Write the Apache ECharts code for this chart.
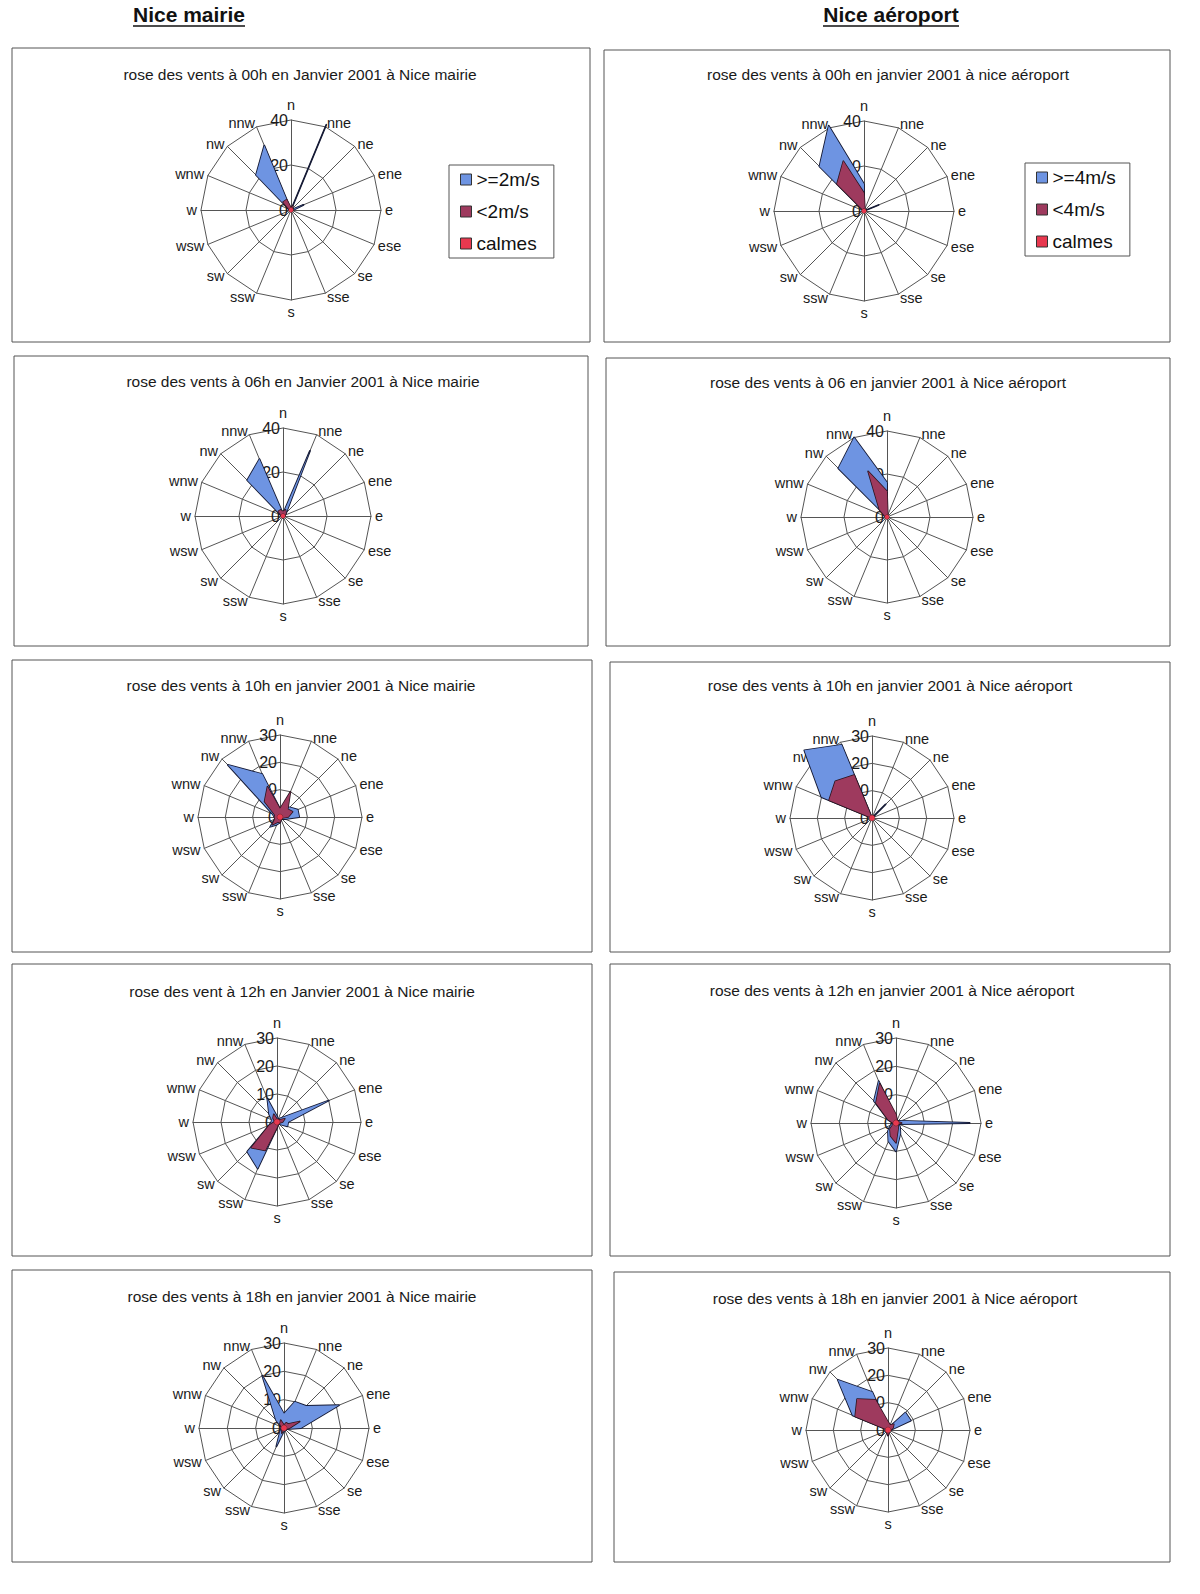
<!DOCTYPE html>
<html><head><meta charset="utf-8">
<script src="https://cdn.jsdelivr.net/npm/echarts@6/dist/echarts.min.js"></script>
<style>html,body{margin:0;padding:0;background:#fff}#c{width:1200px;height:1594px}</style>
</head><body><div id="c"></div>
<script>
// ---- data ----
const DIRS = ['n','nne','ne','ene','e','ese','se','sse','s','ssw','sw','wsw','w','wnw','nw','nnw'];
const TICKS40 = ['0','20','40'];
const TICKS30 = ['0','10','20','30'];
const NAMES_MAIRIE = ['>=2m/s','<2m/s','calmes'];
const NAMES_AERO = ['>=4m/s','<4m/s','calmes'];
const HEADERS = ['Nice mairie','Nice aéroport'];
const TITLES = [
  'rose des vents à 00h en Janvier 2001 à Nice mairie',
  'rose des vents à 00h en janvier 2001 à nice aéroport',
  'rose des vents à 06h en Janvier 2001 à Nice mairie',
  'rose des vents à 06 en janvier 2001 à Nice aéroport',
  'rose des vents à 10h en janvier 2001 à Nice mairie',
  'rose des vents à 10h en janvier 2001 à Nice aéroport',
  'rose des vent à 12h en Janvier 2001 à Nice mairie',
  'rose des vents à 12h en janvier 2001 à Nice aéroport',
  'rose des vents à 18h en janvier 2001 à Nice mairie',
  'rose des vents à 18h en janvier 2001 à Nice aéroport'
];
// values in compass order n, nne, ne, ... nnw (percent)
const mairie00_hi = [0,41,0,6,1,0,0,0,0,0,0,0,0,1,22,31];
const mairie00_lo = [1,2,1,1,0,0,0,0,0,0,0,0,0,1,5,5];
const mairie00_calm = [1,1,1,1,1,1,1,1,1,1,1,1,1,1,1,1];
const aero00_hi = [12,0,0,7,0,0,0,0,0,0,0,0,0,0,28,41];
const aero00_lo = [8,1,0,1,0,0,0,0,0,0,0,0,0,0,17,24];
const aero00_calm = [1,1,1,1,1,1,1,1,1,1,1,1,1,1,1,1];
const mairie06_hi = [1,32,2,1,0,0,0,0,0,0,0,0,0,1,23,28];
const mairie06_lo = [2,3,2,1,1,0,0,0,1,0,0,0,0,1,3,3];
const mairie06_calm = [1,1,1,1,1,1,1,1,1,1,1,1,1,1,1,1];
const aero06_hi = [16,0,0,0,0,0,0,0,0,0,0,0,0,0,32,40];
const aero06_lo = [12,1,0,0,0,0,0,0,0,0,0,0,0,1,5,23];
const aero06_calm = [1,1,1,1,1,1,1,1,1,1,1,1,1,1,1,1];
const mairie10_hi = [3,3,5,7,7,2,1,1,2,3,5,2,2,3,27,17];
const mairie10_lo = [3,10,4,5,3,1,1,1,2,2,4,2,2,2,8,12];
const mairie10_calm = [1,1,1,1,1,1,1,1,1,1,1,1,1,1,1,1];
const aero10_hi = [0,0,7,0,0,0,0,0,0,0,0,0,0,20,35,29];
const aero10_lo = [0,0,1,0,0,0,0,0,0,0,0,0,0,17,19,17];
const aero10_calm = [1,1,1,1,1,1,1,1,1,1,1,1,1,1,1,1];
const mairie12_hi = [2,1,2,20,4,4,1,1,2,18,15,3,2,2,4,9];
const mairie12_lo = [1,1,1,3,2,1,1,1,2,11,13,3,1,1,2,3];
const mairie12_calm = [1,1,1,1,1,1,1,1,1,1,1,1,1,1,1,1];
const aero12_hi = [2,1,1,2,26,1,2,4,10,7,4,2,1,3,11,16];
const aero12_lo = [3,1,1,1,2,1,1,2,7,5,3,1,1,3,10,15];
const aero12_calm = [1,1,1,1,1,1,1,1,1,1,1,1,1,1,1,1];
const mairie18_hi = [5,10,11,21,6,1,1,1,1,7,2,1,1,1,4,20];
const mairie18_lo = [1,2,2,6,2,1,0,0,0,2,1,0,0,1,2,3];
const mairie18_calm = [1,1,1,1,1,1,1,1,1,1,1,1,1,1,1,1];
const aero18_hi = [1,1,9,9,1,0,0,0,2,1,0,0,0,14,26,15];
const aero18_lo = [3,2,3,2,1,0,0,1,2,1,1,0,0,13,16,12];
const aero18_calm = [1,1,1,1,1,1,1,1,1,1,1,1,1,1,1,1];

// ---- layout / styles ----
const FONT = '"Liberation Sans", Arial, Helvetica, sans-serif';
const FILL = ['#6e94e2', '#9e3a5e', '#e8384f'];
const EDGE = ['#151a35', '#2a1520', '#5a1a1a'];
const EDGE_W = [1.8, 1.6, 0.8];
const PANELS = [
  {box:[12,48,578,294],  t:[300,74],  c:[291,210], r:90, ticks:TICKS40, names:NAMES_MAIRIE, d:[mairie00_hi,mairie00_lo,mairie00_calm], legend:[449,165]},
  {box:[604,50,566,292], t:[888,74],  c:[864,211], r:90, ticks:TICKS40, names:NAMES_AERO,   d:[aero00_hi,aero00_lo,aero00_calm], legend:[1025,163]},
  {box:[14,356,574,290], t:[303,381], c:[283,516], r:88, ticks:TICKS40, names:NAMES_MAIRIE, d:[mairie06_hi,mairie06_lo,mairie06_calm]},
  {box:[606,358,564,288],t:[888,382], c:[887,517], r:86, ticks:TICKS40, names:NAMES_AERO,   d:[aero06_hi,aero06_lo,aero06_calm]},
  {box:[12,660,580,292], t:[301,685], c:[280,817], r:82, ticks:TICKS30, names:NAMES_MAIRIE, d:[mairie10_hi,mairie10_lo,mairie10_calm]},
  {box:[610,662,560,290],t:[890,685], c:[872,818], r:82, ticks:TICKS30, names:NAMES_AERO,   d:[aero10_hi,aero10_lo,aero10_calm]},
  {box:[12,964,580,292], t:[302,991], c:[277,1122],r:84, ticks:TICKS30, names:NAMES_MAIRIE, d:[mairie12_hi,mairie12_lo,mairie12_calm]},
  {box:[610,964,560,292],t:[892,990], c:[896,1123],r:85, ticks:TICKS30, names:NAMES_AERO,   d:[aero12_hi,aero12_lo,aero12_calm]},
  {box:[12,1270,580,292],t:[302,1296],c:[284,1428],r:85, ticks:TICKS30, names:NAMES_MAIRIE, d:[mairie18_hi,mairie18_lo,mairie18_calm]},
  {box:[614,1272,556,290],t:[895,1298],c:[888,1430],r:82, ticks:TICKS30, names:NAMES_AERO,  d:[aero18_hi,aero18_lo,aero18_calm]}
];

// ECharts radar lays indicators counter-clockwise; reorder compass (clockwise) arrays
const ccw = a => [a[0]].concat(a.slice(1).reverse());

const radar = [], series = [], legend = [], graphic = [];

graphic.push({type:'text', x:189, y:14, style:{text:HEADERS[0], font:'bold 21px '+FONT, fill:'#111', align:'center', verticalAlign:'middle'}});
graphic.push({type:'line', shape:{x1:133, y1:26, x2:245, y2:26}, style:{stroke:'#111', lineWidth:1.6}});
graphic.push({type:'text', x:891, y:14, style:{text:HEADERS[1], font:'bold 21px '+FONT, fill:'#111', align:'center', verticalAlign:'middle'}});
graphic.push({type:'line', shape:{x1:823, y1:26, x2:959, y2:26}, style:{stroke:'#111', lineWidth:1.6}});

PANELS.forEach((p, i) => {
  const ticks = p.ticks;
  const max = Number(ticks[ticks.length - 1]);
  graphic.push({type:'rect', z:-1, shape:{x:p.box[0], y:p.box[1], width:p.box[2], height:p.box[3]},
    style:{fill:'#fff', stroke:'#555', lineWidth:1}});
  graphic.push({type:'text', x:p.t[0], y:p.t[1], style:{text:TITLES[i], font:'15.5px '+FONT, fill:'#1a1a1a', align:'center', verticalAlign:'middle'}});
  const names = ccw(DIRS);
  radar.push({
    center: p.c, radius: p.r, startAngle: 90, shape: 'polygon', splitNumber: ticks.length - 1,
    nameGap: 4,
    axisName: {color:'#1a1a1a', fontSize:14.5, fontFamily:FONT},
    splitLine: {lineStyle:{color:'#555', width:1}},
    splitArea: {show:false},
    axisLine: {lineStyle:{color:'#555', width:1}},
    axisTick: {show:false},
    axisLabel: {show:false},
    indicator: names.map((n, k) => k === 0
      ? {name:n, min:0, max:max, axisLabel:{show:true, fontSize:16, color:'#1a1a1a', fontFamily:FONT, showMinLabel:true, showMaxLabel:true, margin:3,
          formatter: v => ticks[Math.round(v / (max / (ticks.length - 1)))] }}
      : {name:n, min:0, max:max})
  });
  series.push({
    type:'radar', radarIndex:i, symbol:'none', silent:true,
    data: p.d.map((vals, j) => ({
      name: p.names[j], value: ccw(vals),
      itemStyle:{color:FILL[j]},
      areaStyle:{color:FILL[j], opacity:1},
      lineStyle:{color:EDGE[j], width:EDGE_W[j]}
    }))
  });
  if (p.legend) {
    legend.push({
      data: p.names, orient:'vertical', left:p.legend[0], top:p.legend[1],
      icon:'rect', itemWidth:11, itemHeight:11, itemGap:13, itemTextGap:4, selectedMode:false,
      padding:[5,14,5,11], borderColor:'#555', borderWidth:1, backgroundColor:'#fff',
      textStyle:{fontSize:19, color:'#111', fontFamily:FONT},
      itemStyle:{borderColor:'#333', borderWidth:1}
    });
  }
});

const chart = echarts.init(document.getElementById('c'), null, {renderer:'svg', width:1200, height:1594});
chart.setOption({
  backgroundColor:'#fff', animation:false,
  radar: radar, series: series, legend: legend, graphic: graphic
});
</script></body></html>
